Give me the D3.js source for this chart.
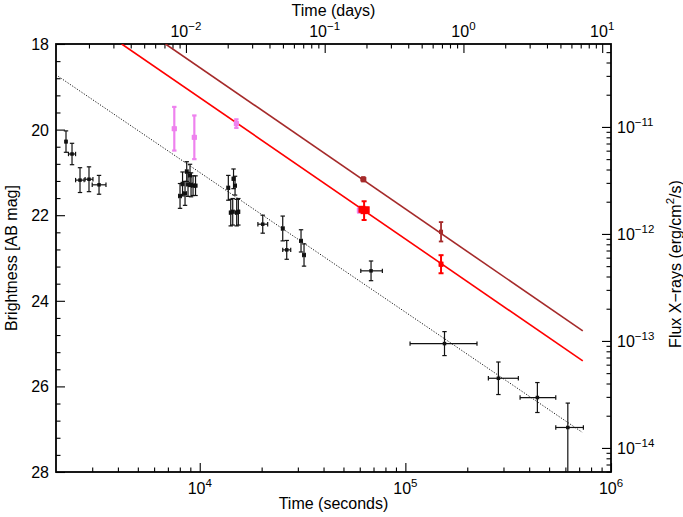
<!DOCTYPE html>
<html><head><meta charset="utf-8">
<script src="https://cdn.jsdelivr.net/npm/d3@7"></script>
<style>
html,body{margin:0;padding:0;background:#fff;}
text{font-family:"Liberation Sans",Arial,Helvetica,sans-serif;fill:#000;}
</style></head>
<body>
<svg id="chart" width="683" height="517"></svg>
<script>
// ---------- DATA ----------
// Optical (black) : time [s], time lower / upper [s], AB magnitude, mag error up, mag error down
const optT   = [2237,2393,2617,2894,3238, 8020,8250,8483,8645,8770,8970,9072,9278,9540, 13772,14600,14850,14150,14470,15130,15410, 20250,25330,26490,31090,32150, 68090,155000,283400,438500,616600];
const optTLo = [2215,2300,2490,2770,3000, 7900,8130,8360,8520,8640,8840,8940,9140,9400, 13570,14390,14630,13940,14260,14910,15190, 19180,24960,25330,30640,31680, 60700,105400,253300,361300,538800];
const optTHi = [2260,2490,2740,3025,3500, 8140,8370,8610,8770,8900,9100,9200,9410,9680, 13970,14810,15070,14360,14680,15350,15630, 21400,25700,27700,31540,32620, 77300,223000,354400,538800,734000];
const optMag = [20.28,20.57,21.18,21.16,21.29, 21.55,21.27,21.49,20.98,21.28,21.07,21.29,21.31,21.31, 21.36,21.15,21.31,21.94,21.92,21.94,21.92, 22.21,22.31,22.81,22.60,22.93, 23.30,25.00,25.81,26.26,26.96];
const optErrUp = [0.25,0.25,0.29,0.29,0.22, 0.29,0.28,0.28,0.23,0.28,0.26,0.28,0.23,0.23, 0.29,0.23,0.22,0.31,0.31,0.31,0.31, 0.21,0.29,0.22,0.26,0.26, 0.23,0.28,0.38,0.35,0.57];
const optErrDn = [0.25,0.25,0.29,0.29,0.22, 0.29,0.28,0.28,0.23,0.28,0.26,0.28,0.23,0.23, 0.29,0.23,0.22,0.31,0.31,0.31,0.31, 0.21,0.29,0.22,0.26,0.26, 0.23,0.28,0.38,0.35,1.60];

// Other optical band (violet)
const uvT    = [7521, 9413, 15070, 59740];
const uvMag  = [19.98, 20.18, 19.86, 21.89];
const uvErr  = [0.51, 0.51, 0.10, 0.05];

// X-ray flux (red) [erg/cm2/s]
const xrT    = [61500, 63000, 64500, 149100];
const xrF    = [1.70e-12, 1.65e-12, 1.68e-12, 5.21e-13];
const xrFLo  = [1.62e-12, 1.35e-12, 1.60e-12, 4.29e-13];
const xrFHi  = [1.78e-12, 2.02e-12, 1.76e-12, 6.33e-13];

// X-ray flux, second band (brown)
const xbT    = [62460, 149100];
const xbTLo  = [61000, 147600];
const xbTHi  = [63960, 150600];
const xbF    = [3.24e-12, 1.045e-12];
const xbFLo  = [3.09e-12, 0.85e-12];
const xbFHi  = [3.40e-12, 1.29e-12];

// power-law model lines (end points)
const redLineT   = [4174, 729000];
const redLineF   = [5.96e-11, 6.50e-14];
const brownLineT = [6818, 729000];
const brownLineF = [5.96e-11, 1.24e-13];
const optLineT   = [2000, 723600];
const optLineMag = [18.72, 27.07];

// tick labels
const xMajor   = [1e4, 1e5, 1e6];
const xExpLbl  = ["4", "5", "6"];
const dMajor   = [1e-2, 1e-1, 1e0, 1e1];
const dExpLbl  = ["\u22122", "\u22121", "0", "1"];
const magMajor = [18, 20, 22, 24, 26, 28];
const fMajor   = [1e-11, 1e-12, 1e-13, 1e-14];
const fExpLbl  = ["\u221211", "\u221212", "\u221213", "\u221214"];

// ---------- SCALES ----------
const L = 56, R = 611, T = 44, B = 472;
const x  = d3.scaleLog().domain([2000, 1e6]).range([L, R]);
const xd = d3.scaleLog().domain([100/86400, 1e6/86400]).range([L, R]);
const y  = d3.scaleLinear().domain([18, 28]).range([T, B]);
const yf = d3.scaleLog().domain([Math.pow(10,-10.225), Math.pow(10,-14.225)]).range([T, B]);

const svg = d3.select("#chart");

function minorLog(dom){
  const out=[]; const lo=Math.min(...dom), hi=Math.max(...dom);
  for(let e=Math.floor(Math.log10(lo));e<=Math.ceil(Math.log10(hi));e++){
    for(let k=2;k<=9;k++){const v=k*Math.pow(10,e); if(v>=lo*1.0001&&v<=hi*0.9999) out.push(v);} }
  return out;
}
const minorMag = d3.range(18.4, 28, 0.4).filter(v=>Math.abs(v/2-Math.round(v/2))>0.01);

function tickAxis(axisFn, scale, vals, size, transform){
  const g = svg.append("g").attr("transform", transform)
    .call(axisFn(scale).tickValues(vals).tickSize(size).tickSizeOuter(0).tickFormat(""));
  g.select(".domain").remove();
  g.selectAll("line").attr("stroke","#000").attr("stroke-width",1.1);
  return g;
}
// bottom
tickAxis(d3.axisBottom, x, minorLog(x.domain()), -4.5, `translate(0,${B})`);
tickAxis(d3.axisBottom, x, xMajor, -9, `translate(0,${B})`);
// top
tickAxis(d3.axisTop, xd, minorLog(xd.domain()), -4.5, `translate(0,${T})`);
tickAxis(d3.axisTop, xd, dMajor, -9, `translate(0,${T})`);
// left
tickAxis(d3.axisLeft, y, minorMag, -4.5, `translate(${L},0)`);
tickAxis(d3.axisLeft, y, magMajor, -9, `translate(${L},0)`);
// right
tickAxis(d3.axisRight, yf, minorLog(yf.domain()), -4.5, `translate(${R},0)`);
tickAxis(d3.axisRight, yf, fMajor, -9, `translate(${R},0)`);

// frame
svg.append("rect").attr("x",L).attr("y",T).attr("width",R-L).attr("height",B-T)
  .attr("fill","none").attr("stroke","#000").attr("stroke-width",1.8);

// labels with superscript
function powLabel(px, py, exp, anchor){
  const t = svg.append("text").attr("x",px).attr("y",py).attr("text-anchor",anchor).attr("font-size",16);
  t.append("tspan").text("10");
  t.append("tspan").attr("dy",-7).attr("font-size",11.5).text(exp);
  return t;
}
xMajor.forEach((v,i)=>powLabel(x(v), 494, xExpLbl[i], "middle"));
dMajor.forEach((v,i)=>powLabel(xd(v), 37, dExpLbl[i], "middle"));
fMajor.forEach((v,i)=>powLabel(R+6, yf(v)+6, fExpLbl[i], "start"));
magMajor.forEach(v=>svg.append("text").attr("x",L-7).attr("y",y(v)+6).attr("text-anchor","end").attr("font-size",16).text(v));

svg.append("text").attr("x",(L+R)/2).attr("y",509).attr("text-anchor","middle").attr("font-size",16).text("Time (seconds)");
svg.append("text").attr("x",(L+R)/2).attr("y",16).attr("text-anchor","middle").attr("font-size",16).text("Time (days)");
svg.append("text").attr("transform",`translate(17,${(T+B)/2}) rotate(-90)`).attr("text-anchor","middle").attr("font-size",16).text("Brightness [AB mag]");
const rt = svg.append("text").attr("transform",`translate(681,${(T+B)/2+6}) rotate(-90)`).attr("text-anchor","middle").attr("font-size",16);
rt.append("tspan").text("Flux X\u2212rays (erg/cm");
rt.append("tspan").attr("dy",-7).attr("font-size",11.5).text("2");
rt.append("tspan").attr("dy",7).text("/s)");

// clip
svg.append("clipPath").attr("id","clip").append("rect").attr("x",L).attr("y",T).attr("width",R-L).attr("height",B-T);
const plot = svg.append("g").attr("clip-path","url(#clip)");

// model lines
plot.append("line").attr("x1",x(optLineT[0])).attr("y1",y(optLineMag[0])).attr("x2",x(optLineT[1])).attr("y2",y(optLineMag[1]))
  .attr("stroke","#000").attr("stroke-width",0.9).attr("stroke-dasharray","1.2,1.6");
plot.append("line").attr("x1",x(redLineT[0])).attr("y1",yf(redLineF[0])).attr("x2",x(redLineT[1])).attr("y2",yf(redLineF[1]))
  .attr("stroke","#ff0000").attr("stroke-width",1.6);
plot.append("line").attr("x1",x(brownLineT[0])).attr("y1",yf(brownLineF[0])).attr("x2",x(brownLineT[1])).attr("y2",yf(brownLineF[1]))
  .attr("stroke","#a52a2a").attr("stroke-width",1.6);

function errPoint(px, py, x0, x1, y0, y1, color, w, cap, ms){
  const g = plot.append("g").attr("stroke",color).attr("stroke-width",w);
  if (Math.abs(y1-y0)>1) {
    g.append("line").attr("x1",px).attr("x2",px).attr("y1",y0).attr("y2",y1);
    g.append("line").attr("x1",px-cap).attr("x2",px+cap).attr("y1",y0).attr("y2",y0);
    g.append("line").attr("x1",px-cap).attr("x2",px+cap).attr("y1",y1).attr("y2",y1);
  }
  if (Math.abs(x1-x0)>1.5) {
    g.append("line").attr("x1",x0).attr("x2",x1).attr("y1",py).attr("y2",py);
    g.append("line").attr("x1",x0).attr("x2",x0).attr("y1",py-cap).attr("y2",py+cap);
    g.append("line").attr("x1",x1).attr("x2",x1).attr("y1",py-cap).attr("y2",py+cap);
  }
  plot.append("rect").attr("x",px-ms/2).attr("y",py-ms/2).attr("width",ms).attr("height",ms).attr("fill",color);
}

// black optical
optT.forEach((t,i)=>{
  errPoint(x(t), y(optMag[i]), x(optTLo[i]), x(optTHi[i]), y(optMag[i]-optErrUp[i]), y(optMag[i]+optErrDn[i]), "#111", 1.2, 2.2, 3.5);
});
// violet
uvT.forEach((t,i)=>{
  errPoint(x(t), y(uvMag[i]), x(t*0.985), x(t*1.015), y(uvMag[i]-uvErr[i]), y(uvMag[i]+uvErr[i]), "#ee82ee", 2.2, 2.2, 5);
});
// red X-ray
xrT.forEach((t,i)=>{
  errPoint(x(t), yf(xrF[i]), x(t*0.99), x(t*1.01), yf(xrFHi[i]), yf(xrFLo[i]), "#ff0000", 2, 2.5, i<3?7:5);
});
// brown X-ray
xbT.forEach((t,i)=>{
  errPoint(x(t), yf(xbF[i]), x(xbTLo[i]), x(xbTHi[i]), yf(xbFHi[i]), yf(xbFLo[i]), "#a52a2a", 1.8, 2.2, 4);
});
</script>
</body></html>
